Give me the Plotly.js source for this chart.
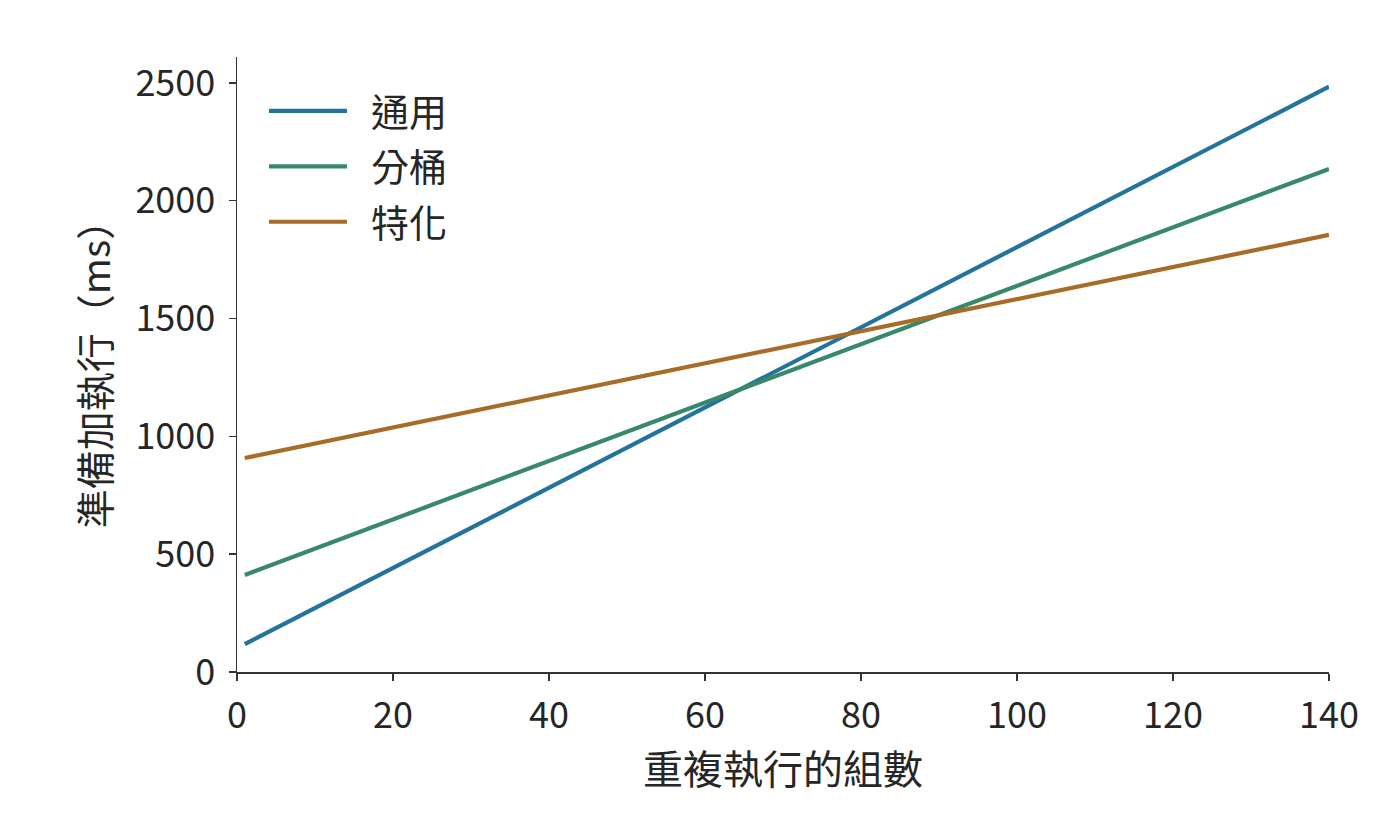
<!DOCTYPE html>
<html>
<head>
<meta charset="utf-8">
<script src="https://cdn.plot.ly/plotly-3.0.1.min.js"></script>
<style>
  html, body { margin: 0; padding: 0; background: #fff; }
  #chart { width: 1400px; height: 840px; }
</style>
</head>
<body>
<div id="chart"></div>
<script>
// repeated runs (x) and prep + run time in ms for each approach
var runs = [1, 140];
var generalMs = [118, 2484];
var bucketMs = [412, 2135];
var specialMs = [908, 1855];

var seriesNames = ["通用", "分桶", "特化"];
var seriesColors = ["#23739b", "#37896a", "#a66c28"];

var font = "'Noto Sans CJK TC', 'Noto Sans', sans-serif";

var traces = [generalMs, bucketMs, specialMs].map(function (vals, i) {
    return {
        x: runs,
        y: vals,
        type: "scatter",
        mode: "lines",
        name: "\u2002" + seriesNames[i],
        legendgroup: "g" + i,
        line: { color: seriesColors[i], width: 4.2 }
    };
});

var axisStyle = {
    showgrid: false,
    zeroline: false,
    showline: true,
    linecolor: "#333",
    linewidth: 1.5,
    ticks: "outside",
    ticklen: 7,
    tickwidth: 1.5,
    tickcolor: "#333",
    tickfont: { family: font, size: 36, color: "#262626" }
};

var layout = {
    width: 1400,
    height: 840,
    paper_bgcolor: "#fff",
    plot_bgcolor: "#fff",
    margin: { l: 237, r: 71, t: 57, b: 168 },
    font: { family: font, color: "#262626" },
    xaxis: Object.assign({}, axisStyle, {
        range: [0, 140],
        dtick: 20,
        ticklabelstandoff: 4,
        title: { text: "重複執行的組數", font: { family: font, size: 40 }, standoff: 8 }
    }),
    yaxis: Object.assign({}, axisStyle, {
        range: [0, 2610],
        dtick: 500,
        ticklabelstandoff: 6,
        title: { text: "準備加執行（ms）", font: { family: font, size: 39 }, standoff: 12 }
    }),
    showlegend: true,
    legend: {
        x: 0.0247,
        y: 0.963,
        xanchor: "left",
        yanchor: "top",
        bgcolor: "rgba(0,0,0,0)",
        font: { family: font, size: 38, color: "#262626" },
        tracegroupgap: 3,
        itemwidth: 78
    }
};

Plotly.newPlot("chart", traces, layout, { displayModeBar: false, staticPlot: true });
</script>
</body>
</html>
